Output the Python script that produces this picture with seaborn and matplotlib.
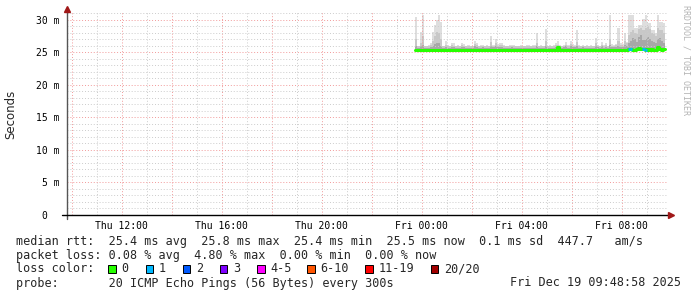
import numpy as np
import pandas as pd
import matplotlib
matplotlib.use("Agg")
import matplotlib.pyplot as plt
from matplotlib.patches import Rectangle
import seaborn as sns

# ---------------- data ----------------
start_hour = 23.75          # Thu 23:45 (hours since Thu 00:00)
step_minutes = 5
x_limits = (9.816, 33.816)  # 24 h window ending Fri 09:48:58

smoke_max = [
    30.5, 26.0, 28.2, 30.8, 26.0, 26.0, 26.2, 26.5, 28.2, 29.2,
    30.0, 30.8, 29.6, 26.0, 26.7, 26.1, 26.0, 26.4, 26.4, 26.0,
    26.1, 26.0, 26.4, 26.3, 26.0, 26.1, 26.0, 26.0, 26.8, 26.5,
    26.0, 26.1, 26.2, 26.0, 26.1, 26.0, 27.5, 26.2, 27.0, 26.3,
    26.4, 26.4, 26.1, 26.0, 26.0, 26.1, 26.2, 26.1, 26.0, 26.0,
    26.1, 26.0, 26.0, 26.1, 26.1, 26.0, 26.1, 26.1, 28.0, 26.0,
    26.1, 26.0, 28.6, 26.0, 26.1, 26.0, 26.1, 26.4, 26.7, 26.1,
    26.0, 26.2, 26.6, 26.1, 26.7, 26.3, 26.2, 28.4, 26.1, 26.0,
    26.2, 26.0, 26.1, 26.0, 26.1, 26.0, 27.2, 26.2, 26.0, 26.6,
    26.1, 26.4, 26.0, 30.8, 26.3, 26.2, 26.3, 28.7, 26.4, 26.3,
    28.0, 26.6, 30.8, 30.8, 30.8, 28.7, 28.7, 29.2, 29.2, 30.2,
    30.8, 29.5, 29.5, 28.5, 28.5, 28.0, 30.8, 29.7, 29.7, 29.5,
]
smoke_mid = [
    27.0, 25.9, 26.5, 27.5, 25.9, 25.9, 26.0, 26.1, 26.8, 27.5,
    28.2, 28.0, 27.0, 25.9, 26.2, 25.9, 25.9, 26.1, 26.0, 25.9,
    25.9, 25.9, 26.1, 26.0, 25.9, 25.9, 25.9, 25.9, 26.3, 26.1,
    25.9, 25.9, 26.0, 25.9, 25.9, 25.9, 26.6, 26.0, 26.4, 26.0,
    26.1, 26.1, 25.9, 25.9, 25.9, 25.9, 26.0, 25.9, 25.9, 25.9,
    25.9, 25.9, 25.9, 25.9, 25.9, 25.9, 25.9, 25.9, 26.5, 25.9,
    25.9, 25.9, 26.8, 25.9, 25.9, 25.9, 25.9, 26.1, 26.2, 25.9,
    25.9, 26.0, 26.2, 25.9, 26.3, 26.0, 26.0, 26.6, 25.9, 25.9,
    26.0, 25.9, 25.9, 25.9, 25.9, 25.9, 26.5, 26.0, 25.9, 26.2,
    25.9, 26.1, 25.9, 27.0, 26.0, 26.0, 26.1, 26.8, 26.1, 26.0,
    26.8, 26.5, 27.6, 28.2, 28.4, 28.0, 27.8, 28.6, 28.8, 28.5,
    28.7, 28.9, 28.6, 28.0, 27.8, 27.5, 28.8, 28.4, 28.5, 28.0,
]
smoke_dark = [
    26.0, 25.7, 25.9, 26.2, 25.7, 25.7, 25.7, 25.8, 26.0, 26.3,
    26.5, 26.4, 26.0, 25.7, 25.8, 25.7, 25.7, 25.8, 25.8, 25.7,
    25.7, 25.7, 25.8, 25.8, 25.7, 25.7, 25.7, 25.7, 25.9, 25.8,
    25.7, 25.7, 25.8, 25.7, 25.7, 25.7, 26.0, 25.8, 25.9, 25.8,
    25.8, 25.8, 25.7, 25.7, 25.7, 25.7, 25.8, 25.7, 25.7, 25.7,
    25.7, 25.7, 25.7, 25.7, 25.7, 25.7, 25.7, 25.7, 25.9, 25.7,
    25.7, 25.7, 26.0, 25.7, 25.7, 25.7, 25.7, 25.8, 25.9, 25.7,
    25.7, 25.8, 25.9, 25.7, 25.9, 25.8, 25.8, 26.0, 25.7, 25.7,
    25.8, 25.7, 25.7, 25.7, 25.7, 25.7, 26.0, 25.8, 25.7, 25.9,
    25.7, 25.8, 25.7, 26.1, 25.8, 25.8, 25.8, 26.0, 25.8, 25.8,
    26.2, 26.0, 26.5, 26.8, 27.2, 27.0, 26.6, 27.4, 27.6, 26.9,
    27.0, 27.3, 27.1, 26.8, 26.6, 26.4, 27.0, 27.2, 26.8, 26.5,
]
median_rtt = [
    25.4, 25.4, 25.4, 25.4, 25.4, 25.4, 25.4, 25.4, 25.4, 25.4,
    25.4, 25.4, 25.4, 25.4, 25.4, 25.4, 25.4, 25.4, 25.4, 25.4,
    25.4, 25.4, 25.4, 25.4, 25.4, 25.4, 25.4, 25.4, 25.4, 25.4,
    25.4, 25.4, 25.4, 25.4, 25.4, 25.4, 25.4, 25.4, 25.4, 25.4,
    25.4, 25.4, 25.4, 25.4, 25.4, 25.4, 25.4, 25.4, 25.4, 25.4,
    25.4, 25.4, 25.4, 25.4, 25.4, 25.4, 25.4, 25.4, 25.4, 25.4,
    25.4, 25.4, 25.4, 25.4, 25.4, 25.4, 25.4, 25.4, 25.8, 25.4,
    25.4, 25.4, 25.4, 25.4, 25.4, 25.4, 25.4, 25.4, 25.4, 25.4,
    25.4, 25.4, 25.4, 25.4, 25.4, 25.4, 25.4, 25.4, 25.4, 25.4,
    25.4, 25.4, 25.4, 25.4, 25.4, 25.4, 25.4, 25.4, 25.4, 25.4,
    25.4, 25.4, 25.5, 25.5, 25.4, 25.4, 25.5, 25.7, 25.5, 25.5,
    25.4, 25.5, 25.4, 25.5, 25.4, 25.4, 25.8, 25.5, 25.4, 25.5,
]
lost_pings = [
    0, 0, 0, 0, 0, 0, 0, 0, 0, 0,
    0, 0, 0, 0, 0, 0, 0, 0, 0, 0,
    0, 0, 0, 0, 0, 0, 0, 0, 0, 0,
    0, 0, 0, 0, 0, 0, 0, 0, 0, 0,
    0, 0, 0, 0, 0, 0, 0, 0, 0, 0,
    0, 0, 0, 0, 0, 0, 0, 0, 0, 0,
    0, 0, 0, 0, 0, 0, 0, 0, 0, 0,
    0, 0, 0, 0, 0, 0, 0, 0, 0, 0,
    0, 0, 0, 0, 0, 0, 0, 0, 0, 0,
    0, 0, 0, 0, 0, 0, 0, 0, 0, 0,
    0, 0, 1, 1, 0, 0, 0, 0, 0, 1,
    1, 0, 0, 0, 0, 0, 0, 0, 0, 0,
]

x_tick_pos = [10, 12, 14, 16, 18, 20, 22, 24, 26, 28, 30, 32]
x_tick_labels = ["", "Thu 12:00", "", "Thu 16:00", "", "Thu 20:00",
                 "", "Fri 00:00", "", "Fri 04:00", "", "Fri 08:00"]
y_tick_pos = [0, 5, 10, 15, 20, 25, 30]
y_tick_labels = ["0  ", "5 m", "10 m", "15 m", "20 m", "25 m", "30 m"]

loss_labels = ["0", "1", "2", "3", "4-5", "6-10", "11-19", "20/20"]
loss_colors = ["#26ff00", "#00b8ff", "#0059ff", "#7e00ff",
               "#ff00ff", "#ff5500", "#ff0000", "#a10000"]

line_rtt = "median rtt:  25.4 ms avg  25.8 ms max  25.4 ms min  25.5 ms now  0.1 ms sd  447.7   am/s"
line_loss = "packet loss: 0.08 % avg  4.80 % max  0.00 % min  0.00 % now"
line_probe = "probe:       20 ICMP Echo Pings (56 Bytes) every 300s"
stamp = "Fri Dec 19 09:48:58 2025"
watermark = "RRDTOOL / TOBI OETIKER"

# ---------------- build frame ----------------
n = len(median_rtt)
times = pd.date_range("2025-12-18 23:45", periods=n + 1, freq=f"{step_minutes}min")
edges = start_hour + (times - times[0]).total_seconds().to_numpy() / 3600.0
df = pd.DataFrame({
    "t": edges,
    "median": median_rtt + [median_rtt[-1]],
    "smax": smoke_max + [smoke_max[-1]],
    "smid": smoke_mid + [smoke_mid[-1]],
    "sdark": smoke_dark + [smoke_dark[-1]],
    "loss": lost_pings + [lost_pings[-1]],
})

# ---------------- style ----------------
sns.set_style("white")
plt.rcParams["font.family"] = ["DejaVu Sans Mono", "DejaVu Sans"]

W, H = 697, 297
fig = plt.figure(figsize=(W / 100, H / 100), dpi=100)
fig.patch.set_facecolor("white")
ax = fig.add_axes([67 / W, 82 / H, 600 / W, 203 / H])
ax.set_facecolor("white")

base = 25.2
ax.fill_between(df["t"], base, df["smax"], step="post", color="#dedede", lw=0, zorder=1)
ax.fill_between(df["t"], base, df["smid"], step="post", color="#c8c8c8", lw=0, zorder=1.1)
ax.fill_between(df["t"], base, df["sdark"], step="post", color="#a8a8a8", lw=0, zorder=1.2)

sns.lineplot(data=df, x="t", y="median", drawstyle="steps-post", color="#26ff00",
             lw=2.2, estimator=None, sort=False, ax=ax, zorder=4)
for j in range(n):
    if lost_pings[j] > 0:
        ax.hlines(median_rtt[j], edges[j], edges[j + 1],
                  color=loss_colors[min(lost_pings[j], 3)], lw=2.2, zorder=5)

ax.set_xlim(*x_limits)
ax.set_ylim(0, 31.2)
ax.set_xticks(x_tick_pos)
ax.set_xticklabels(x_tick_labels)
ax.set_xticks(np.arange(10, 34, 1), minor=True)
ax.set_yticks(y_tick_pos)
ax.set_yticklabels(y_tick_labels)
ax.set_yticks(np.arange(0, 32, 1), minor=True)
ax.set_xlabel("")
ax.set_ylabel("")

ax.set_axisbelow(False)
ax.grid(which="minor", color="#cccccc", linestyle=(0, (1, 2)), lw=0.7, zorder=2)
ax.grid(which="major", color="#f29a9a", linestyle=(0, (1, 2)), lw=0.7, zorder=2.1)

ax.tick_params(axis="both", which="major", labelsize=7, colors="#000000",
               length=2.2, width=0.7)
ax.tick_params(axis="x", which="major", pad=2.2, color="#666666")
ax.tick_params(axis="y", which="major", pad=3.0, color="#666666")
ax.tick_params(axis="both", which="minor", length=1.2, width=0.6, color="#999999")
for lab in ax.get_xticklabels() + ax.get_yticklabels():
    lab.set_family("DejaVu Sans Mono")

for s in ax.spines.values():
    s.set_visible(False)

# axis lines with arrows
ax.plot([0, 0], [-0.018, 1.005], transform=ax.transAxes, color="#555555",
        lw=1.0, clip_on=False, zorder=6)
ax.plot([-0.0083, 1.003], [0, 0], transform=ax.transAxes, color="#000000",
        lw=1.0, clip_on=False, zorder=6)
ax.plot([0], [1.013], marker="^", ms=4.5, color="#a01818", transform=ax.transAxes,
        clip_on=False, zorder=7)
ax.plot([1.007], [0], marker=">", ms=4.5, color="#a01818", transform=ax.transAxes,
        clip_on=False, zorder=7)

# y label and watermark
fig.text(11 / W, 1 - 114 / H, "Seconds", rotation=90, fontsize=8.5,
         family="DejaVu Sans", ha="center", va="center")
fig.text(686 / W, 1 - 60 / H, watermark, rotation=270, fontsize=6,
         family="DejaVu Sans Mono", color="#b4b4b4", ha="center", va="center")

# legend lines
fs = 8.5
fig.text(16 / W, 1 - 241 / H, line_rtt, fontsize=fs, ha="left", va="center")
fig.text(16 / W, 1 - 255 / H, line_loss, fontsize=fs, ha="left", va="center")
fig.text(16 / W, 1 - 269 / H, "loss color:", fontsize=fs, ha="left", va="center")
fig.text(16 / W, 1 - 283 / H, line_probe, fontsize=fs, ha="left", va="center")
fig.text(681 / W, 1 - 283 / H, stamp, fontsize=fs, ha="right", va="center")

sq_x = [108.3, 145.7, 182.7, 220.0, 257.3, 307.3, 365.0, 430.7]
lab_x = [121.7, 159.0, 196.0, 233.3, 270.7, 320.7, 378.3, 444.0]
for sx, lx, lab, col in zip(sq_x, lab_x, loss_labels, loss_colors):
    fig.add_artist(Rectangle((sx / W, 1 - 272.5 / H), 7.5 / W, 7.5 / H,
                             transform=fig.transFigure, facecolor=col,
                             edgecolor="black", lw=0.7))
    fig.text(lx / W, 1 - 269 / H, lab, fontsize=fs, ha="left", va="center")

fig.savefig("out.png", dpi=100, facecolor="white")
